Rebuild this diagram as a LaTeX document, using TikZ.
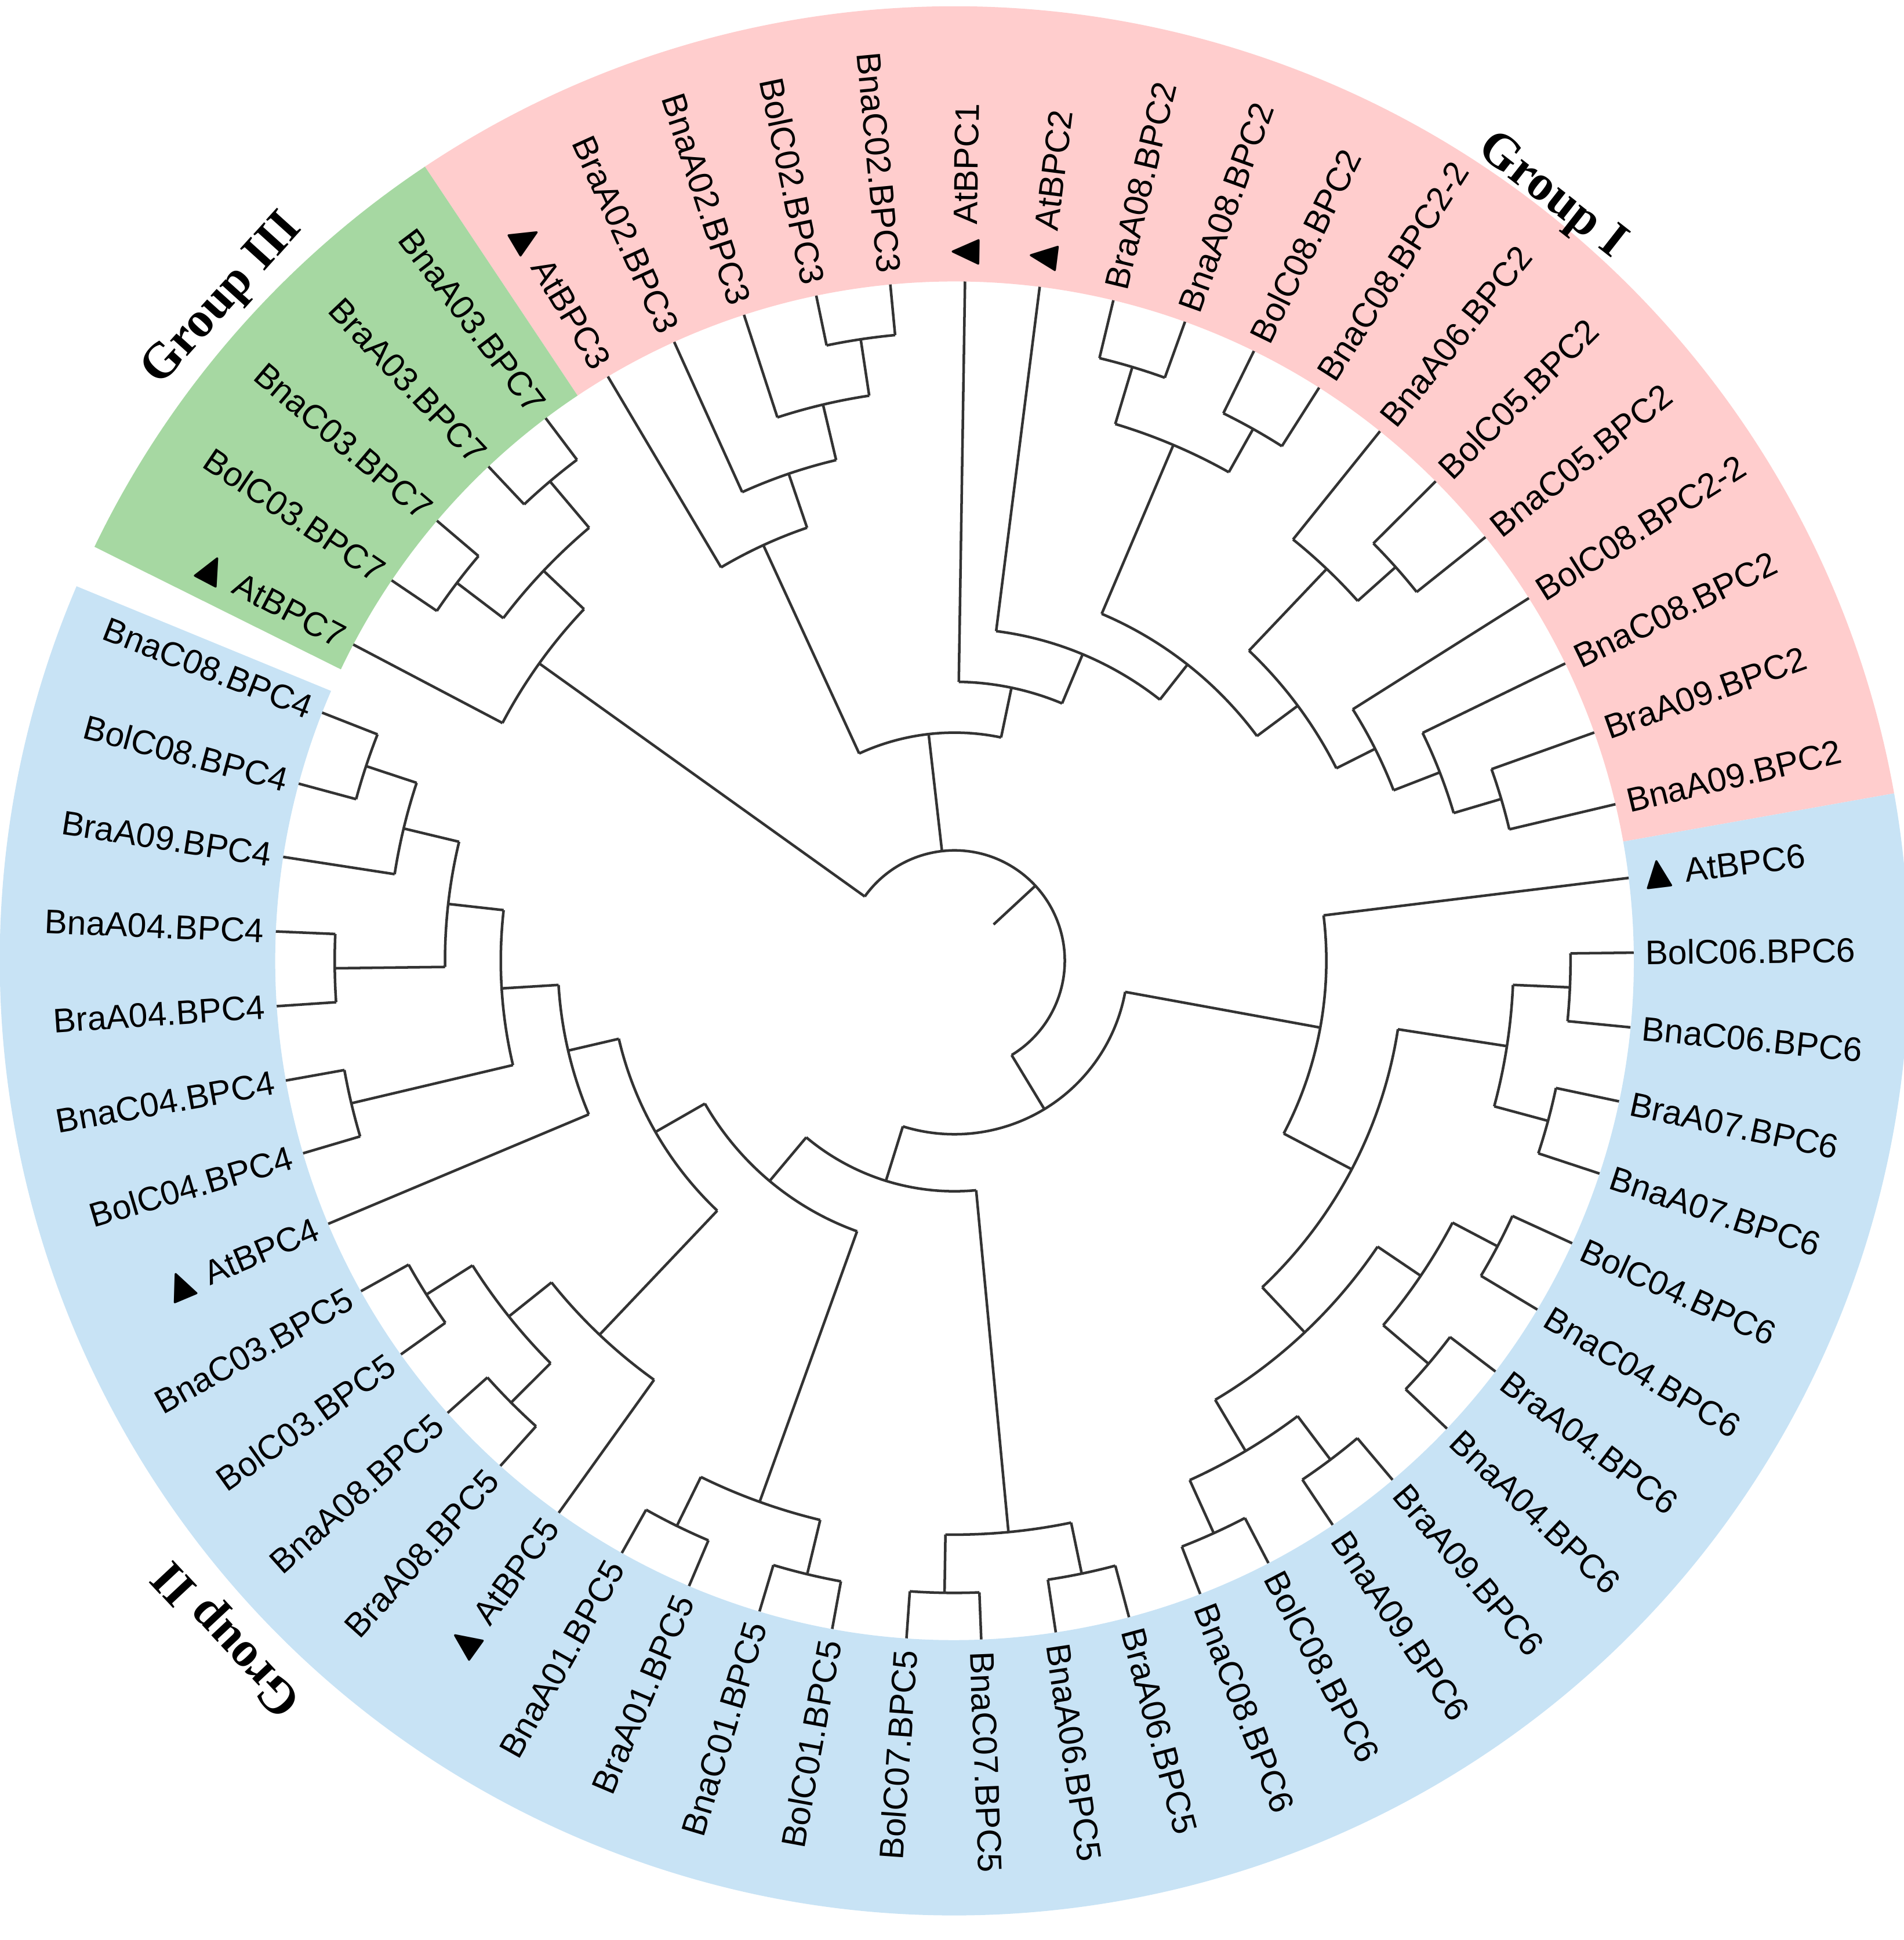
\documentclass[tikz,border=0pt]{standalone}
\usepackage{amssymb}
\usepackage{fontspec}
\setmainfont{Liberation Sans}
\newfontfamily\grpfont{Liberation Serif}
\definecolor{pinkc}{HTML}{FFCDCD}
\definecolor{greenc}{HTML}{A6D8A2}
\definecolor{bluec}{HTML}{C8E3F5}
\definecolor{brc}{HTML}{333333}
\tikzset{br/.style={draw=brc,line width=0.6pt},
 lbl/.style={inner sep=0pt,font=\fontsize{7.8}{9}\selectfont},
 grp/.style={font=\grpfont\bfseries\fontsize{11.5}{13}\selectfont}}
\newcommand\nd[5]{\draw[br] (#1:#4) arc[start angle=#1,end angle=#2,radius=#4];\draw[br] (#3:#5)--(#3:#4);}
\newcommand\lf[2]{\draw[br] (#1:#2)--(#1:548);}
\newcommand\lab[3]{\pgfmathparse{cos(#2)>0?1:0}\ifnum\pgfmathresult=1 \node[lbl,anchor=west,rotate=#2] (#1) at (#2:557) {#3};\else\pgfmathsetmacro\tmpr{#2+180}\node[lbl,anchor=east,rotate=\tmpr] (#1) at (#2:557) {#3};\fi}
\newcommand\tri{\raisebox{-0.1ex}{\scalebox{1.35}{$\blacktriangle$}}\ }
\begin{document}
\begin{tikzpicture}[x=0.01cm,y=0.01cm]
\useasboundingbox (-770,-790) rectangle (766,775);
% sectors
\fill[pinkc] (10.1:548) -- (10.1:770) arc[start angle=10.1,end angle=123.7,radius=770] -- (123.7:548) arc[start angle=123.7,end angle=10.1,radius=548] -- cycle;
\fill[greenc] (123.7:548) -- (123.7:770) arc[start angle=123.7,end angle=154.3,radius=770] -- (154.6:548) arc[start angle=154.6,end angle=123.7,radius=548] -- cycle;
\fill[bluec] (156.6:548) -- (156.9:770) arc[start angle=156.9,end angle=370.1,radius=770] -- (370.1:548) arc[start angle=370.1,end angle=156.6,radius=548] -- cycle;
% root
\draw[br] (144.4:89) arc[start angle=144.4,end angle=-58.8,radius=89];
\draw[br] (42.8:43)--(42.8:89);
% Group I
\nd{114.7}{78.2}{96.5}{184}{89}
\nd{120.68}{108.8}{114.7}{369}{184}\lf{120.68}{369}
\nd{114.37}{103.3}{108.8}{415}{369}\lf{114.37}{415}
\nd{108.05}{98.58}{103.3}{461}{415}\lf{108.05}{461}
\nd{101.74}{95.42}{98.58}{507}{461}\lf{101.74}{507}\lf{95.42}{507}
\nd{89.11}{67.3}{78.2}{225}{184}\lf{89.11}{225}
\nd{82.79}{51.8}{67.3}{268}{225}\lf{82.79}{268}
\nd{67.0}{36.6}{51.8}{304}{268}
\nd{73.32}{60.68}{67.0}{452}{304}
\nd{76.47}{70.16}{73.32}{500}{452}\lf{76.47}{500}\lf{70.16}{500}
\nd{63.84}{57.53}{60.68}{492}{452}\lf{63.84}{492}\lf{57.53}{492}
\nd{46.47}{26.74}{36.6}{345}{304}
\nd{51.21}{41.74}{46.47}{436}{345}\lf{51.21}{436}
\nd{44.89}{38.58}{41.74}{477}{436}\lf{44.89}{477}\lf{38.58}{477}
\nd{32.26}{21.21}{26.74}{380}{345}\lf{32.26}{380}
\nd{25.95}{16.48}{21.21}{420}{380}\lf{25.95}{420}
\nd{19.63}{13.32}{16.48}{460}{420}\lf{19.63}{460}\lf{13.32}{460}
% Group III
\nd{152.26}{136.5}{144.4}{412}{89}\lf{152.26}{412}
\nd{142.79}{130.16}{136.5}{457}{412}
\nd{145.95}{139.63}{142.79}{504}{457}\lf{145.95}{504}\lf{139.63}{504}
\nd{133.32}{127}{130.16}{506}{457}\lf{133.32}{506}\lf{127}{506}
% Group II
\nd{-10.36}{-107.3}{-58.8}{140}{89}
\nd{7}{-27.7}{-10.36}{300}{140}\lf{7}{300}
\nd{-8.79}{-46.7}{-27.7}{362}{300}
\nd{-2.48}{-15.1}{-8.79}{451}{362}
\nd{0.68}{-5.63}{-2.48}{497}{451}\lf{0.68}{497}\lf{-5.63}{497}
\nd{-11.95}{-18.26}{-15.1}{496}{451}\lf{-11.95}{496}\lf{-18.26}{496}
\nd{-34.05}{-59.3}{-46.7}{412}{362}
\nd{-27.74}{-40.37}{-34.05}{454}{412}
\nd{-24.58}{-30.90}{-27.74}{495}{454}\lf{-24.58}{495}\lf{-30.90}{495}
\nd{-37.21}{-43.53}{-40.37}{502}{454}\lf{-37.21}{502}\lf{-43.53}{502}
\nd{-53.0}{-65.63}{-59.3}{460}{412}
\nd{-49.84}{-56.16}{-53.0}{504}{460}\lf{-49.84}{504}\lf{-56.16}{504}
\nd{-62.47}{-68.79}{-65.63}{507}{460}\lf{-62.47}{507}\lf{-68.79}{507}
\nd{-84.6}{-130.0}{-107.3}{186}{140}
\nd{-78.27}{-90.9}{-84.6}{463}{186}
\nd{-75.11}{-81.42}{-78.27}{505}{463}\lf{-75.11}{505}\lf{-81.42}{505}
\nd{-87.74}{-94.05}{-90.9}{510}{463}\lf{-87.74}{510}\lf{-94.05}{510}
\nd{-109.8}{-150.2}{-130.0}{232}{186}
\nd{-103.5}{-116.16}{-109.8}{464}{232}
\nd{-100.37}{-106.68}{-103.5}{509}{464}\lf{-100.37}{509}\lf{-106.68}{509}
\nd{-113}{-119.32}{-116.16}{508}{464}\lf{-113}{508}\lf{-119.32}{508}
\nd{-133.5}{-166.9}{-150.2}{278}{232}
\nd{-125.63}{-141.4}{-133.5}{416}{278}\lf{-125.63}{416}
\nd{-135.1}{-147.7}{-141.4}{460}{416}
\nd{-131.95}{-138.26}{-135.1}{505}{460}\lf{-131.95}{505}\lf{-138.26}{505}
\nd{-144.58}{-150.89}{-147.7}{504}{460}\lf{-144.58}{504}\lf{-150.89}{504}
\nd{-157.21}{-176.5}{-166.9}{320}{278}\lf{-157.21}{320}
\nd{-166.7}{-186.4}{-176.5}{366}{320}
\nd{-163.53}{-169.84}{-166.7}{500}{366}\lf{-163.53}{500}\lf{-169.84}{500}
\nd{-179.3}{-193.5}{-186.4}{411}{366}
\nd{-176.16}{-182.47}{-179.3}{500}{411}\lf{-176.16}{500}\lf{-182.47}{500}
\nd{-188.79}{-198.3}{-193.5}{457}{411}\lf{-188.79}{457}
\nd{-195.11}{-201.42}{-198.3}{500}{457}\lf{-195.11}{500}\lf{-201.42}{500}
% labels
\lab{l0}{7}{\tri AtBPC6}
\lab{l1}{0.68}{BolC06.BPC6}
\lab{l2}{-5.63}{BnaC06.BPC6}
\lab{l3}{-11.95}{BraA07.BPC6}
\lab{l4}{-18.26}{BnaA07.BPC6}
\lab{l5}{-24.58}{BolC04.BPC6}
\lab{l6}{-30.90}{BnaC04.BPC6}
\lab{l7}{-37.21}{BraA04.BPC6}
\lab{l8}{-43.53}{BnaA04.BPC6}
\lab{l9}{-49.84}{BraA09.BPC6}
\lab{l10}{-56.16}{BnaA09.BPC6}
\lab{l11}{-62.47}{BolC08.BPC6}
\lab{l12}{-68.79}{BnaC08.BPC6}
\lab{l13}{-75.11}{BraA06.BPC5}
\lab{l14}{-81.42}{BnaA06.BPC5}
\lab{l15}{-87.74}{BnaC07.BPC5}
\lab{l16}{-94.05}{BolC07.BPC5}
\lab{l17}{-100.37}{BolC01.BPC5}
\lab{l18}{-106.68}{BnaC01.BPC5}
\lab{l19}{-113.00}{BraA01.BPC5}
\lab{l20}{-119.32}{BnaA01.BPC5}
\lab{l21}{-125.63}{\tri AtBPC5}
\lab{l22}{-131.95}{BraA08.BPC5}
\lab{l23}{-138.26}{BnaA08.BPC5}
\lab{l24}{-144.58}{BolC03.BPC5}
\lab{l25}{-150.89}{BnaC03.BPC5}
\lab{l26}{-157.21}{\tri AtBPC4}
\lab{l27}{-163.53}{BolC04.BPC4}
\lab{l28}{-169.84}{BnaC04.BPC4}
\lab{l29}{-176.16}{BraA04.BPC4}
\lab{l30}{-182.47}{BnaA04.BPC4}
\lab{l31}{-188.79}{BraA09.BPC4}
\lab{l32}{-195.11}{BolC08.BPC4}
\lab{l33}{-201.42}{BnaC08.BPC4}
\lab{l34}{152.26}{\tri AtBPC7}
\lab{l35}{145.95}{BolC03.BPC7}
\lab{l36}{139.63}{BnaC03.BPC7}
\lab{l37}{133.32}{BraA03.BPC7}
\lab{l38}{127.00}{BnaA03.BPC7}
\lab{l39}{120.68}{\tri AtBPC3}
\lab{l40}{114.37}{BraA02.BPC3}
\lab{l41}{108.05}{BnaA02.BPC3}
\lab{l42}{101.74}{BolC02.BPC3}
\lab{l43}{95.42}{BnaC02.BPC3}
\lab{l44}{89.11}{\tri AtBPC1}
\lab{l45}{82.79}{\tri AtBPC2}
\lab{l46}{76.47}{BraA08.BPC2}
\lab{l47}{70.16}{BnaA08.BPC2}
\lab{l48}{63.84}{BolC08.BPC2}
\lab{l49}{57.53}{BnaC08.BPC2-2}
\lab{l50}{51.21}{BnaA06.BPC2}
\lab{l51}{44.89}{BolC05.BPC2}
\lab{l52}{38.58}{BnaC05.BPC2}
\lab{l53}{32.26}{BolC08.BPC2-2}
\lab{l54}{25.95}{BnaC08.BPC2}
\lab{l55}{19.63}{BraA09.BPC2}
\lab{l56}{13.32}{BnaA09.BPC2}
% group labels
\node[grp,rotate=-38] (g1) at (52:782) {Group I};
\node[grp,rotate=47.9] (g3) at (137.9:795) {Group III};
\node[grp,rotate=133] (g2) at (223:800) {Group II};
\end{tikzpicture}
\end{document}
